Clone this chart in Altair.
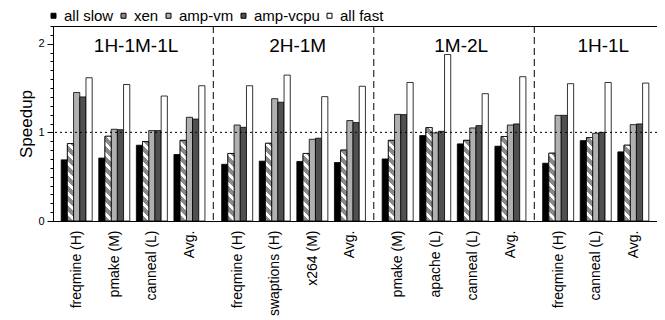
import math
import altair as alt

# ---------------- data ----------------
series = ["all slow", "xen", "amp-vm", "amp-vcpu", "all fast"]
colors = ["#000000", "#8a8a8a", "#b0b0b0", "#505050", "#ffffff"]

groups = ["1H-1M-1L", "2H-1M", "1M-2L", "1H-1L"]
group_benchmarks = [
    ["freqmine (H)", "pmake (M)", "canneal (L)", "Avg."],
    ["freqmine (H)", "swaptions (H)", "x264 (M)", "Avg."],
    ["pmake (M)", "apache (L)", "canneal (L)", "Avg."],
    ["freqmine (H)", "canneal (L)", "Avg."],
]
all_slow = [0.69, 0.71, 0.855, 0.75, 0.64, 0.675, 0.672, 0.66, 0.70, 0.964, 0.87, 0.844, 0.652, 0.907, 0.78]
xen      = [0.874, 0.956, 0.896, 0.91, 0.762, 0.877, 0.762, 0.80, 0.91, 1.054, 0.91, 0.953, 0.765, 0.941, 0.855]
amp_vm   = [1.45, 1.035, 1.02, 1.17, 1.083, 1.38, 0.922, 1.133, 1.203, 0.994, 1.05, 1.083, 1.192, 0.99, 1.087]
amp_vcpu = [1.40, 1.03, 1.02, 1.15, 1.057, 1.34, 0.934, 1.11, 1.20, 1.012, 1.076, 1.095, 1.192, 1.0, 1.095]
all_fast = [1.616, 1.54, 1.41, 1.526, 1.526, 1.646, 1.403, 1.52, 1.563, 1.878, 1.436, 1.628, 1.549, 1.563, 1.556]
values_by_series = [all_slow, xen, amp_vm, amp_vcpu, all_fast]
title_shift = [0.08, 0.11, 0.19, 0.2]
major_ticks = [0, 1, 2]
minor_ticks = [round(i * 0.1, 1) for i in range(23)]

# ---------------- layout ----------------
FONT = "Liberation Sans"
W, H = 604, 195
YMAX = 2.2
GROUP_STEP = 4.27
BAR_W = 0.165
XMIN = -0.63
XMAX = (len(groups) - 1) * GROUP_STEP + len(group_benchmarks[-1]) - 1 + 0.63
PX_PER_X = W / (XMAX - XMIN)
PX_PER_Y = H / YMAX
STRIPE_PERIOD = 10.0
STRIPE_GRAY = "#8a8a8a"


def hatch(value):
    wpx = BAR_W * PX_PER_X
    hpx = max(value * PX_PER_Y, 1.0)
    r = hpx / wpx
    a = (1 + r) / (1 + r * r)
    n = (wpx + hpx) / STRIPE_PERIOD
    stops = []
    k = 0
    frac = 0.6
    while k / n < 1:
        o0 = k / n
        o1 = min((k + frac) / n, 1.0)
        o2 = min((k + 1) / n, 1.0)
        stops += [{"offset": o0, "color": STRIPE_GRAY}, {"offset": o1, "color": STRIPE_GRAY},
                  {"offset": o1, "color": "#ffffff"}, {"offset": o2, "color": "#ffffff"}]
        k += 1
    return {"gradient": "linear", "x1": 0, "y1": 1, "x2": a, "y2": 1 - a * r, "stops": stops}


rows, centers, labels = [], [], []
idx = 0
for g, benches in enumerate(group_benchmarks):
    for k, b in enumerate(benches):
        c = g * GROUP_STEP + k
        centers.append(c)
        labels.append(b)
        for i, s in enumerate(series):
            v = values_by_series[i][idx]
            x0 = c + (i - 2.5) * BAR_W
            row = {"series": s, "x0": x0, "x1": x0 + BAR_W, "v": v, "y0": 0}
            if s == "xen":
                row["grad"] = hatch(v)
            rows.append(row)
        idx += 1

sep_rows = [{"sx": g * GROUP_STEP - (GROUP_STEP - 3) / 2} for g in range(1, len(groups))]
title_rows = [{"t": t, "tx": g * GROUP_STEP + (len(group_benchmarks[g]) - 1) / 2 + title_shift[g], "ty": 1.91}
              for g, t in enumerate(groups)]

label_expr = "''"
for c, l in reversed(list(zip(centers, labels))):
    label_expr = f"datum.value < {c + 0.5:.3f} ? '{l}' : ({label_expr})"

xscale = alt.Scale(domain=[XMIN, XMAX], nice=False, zero=False)
yscale = alt.Scale(domain=[0, YMAX], nice=False)

bar_data = alt.InlineData(values=rows)

bars = alt.Chart(bar_data).mark_bar(stroke="black", strokeWidth=0.8).encode(
    x=alt.X("x0:Q", scale=xscale, axis=alt.Axis(
        values=centers, labelExpr=label_expr, labelAngle=270, labelAlign="right",
        labelBaseline="middle", ticks=False, domain=False, grid=False, labelPadding=9,
        labelFontSize=14, labelFont=FONT, labelColor="black", title=None, labelOverlap=False)),
    x2="x1:Q",
    y=alt.Y("v:Q", scale=yscale, axis=alt.Axis(
        orient="left", values=major_ticks, format="d", labelOverlap=False, tickSize=6,
        tickColor="black", domain=False, grid=False, labelFontSize=11, labelFont=FONT,
        labelColor="black", labelPadding=3, title="Speedup", titleFontSize=17,
        titleFont=FONT, titleFontWeight="normal", titleColor="black", titlePadding=2)),
    y2="y0:Q",
    color=alt.Color("series:N", scale=alt.Scale(domain=series, range=colors),
                    legend=alt.Legend(orient="none", legendX=-7, legendY=-18, direction="horizontal",
                                      title=None, symbolType="square", symbolSize=25,
                                      symbolStrokeColor="black", symbolStrokeWidth=1,
                                      labelFontSize=15, labelFont=FONT, labelColor="black",
                                      columnPadding=2, labelOffset=3)),
)

xen_bars = alt.Chart(bar_data).transform_filter(alt.datum.series == "xen").mark_bar(
    stroke="black", strokeWidth=0.8).encode(
    x=alt.X("x0:Q", scale=xscale),
    x2="x1:Q",
    y=alt.Y("v:Q", scale=yscale, axis=None),
    y2="y0:Q",
    fill=alt.Fill("grad:N", scale=None),
)

one_line = alt.Chart(alt.InlineData(values=[{"one": 1}])).mark_rule(
    color="black", strokeWidth=1, strokeDash=[2, 3]).encode(
    y=alt.Y("one:Q", scale=yscale, axis=alt.Axis(
        orient="left", values=minor_ticks, labels=False, tickSize=3, tickColor="black",
        domain=True, domainColor="black", grid=False, title=None)))

seps = alt.Chart(alt.InlineData(values=sep_rows)).mark_rule(
    color="black", strokeWidth=1, strokeDash=[7, 4]).encode(
    x=alt.X("sx:Q", scale=xscale))

titles = alt.Chart(alt.InlineData(values=title_rows)).mark_text(
    fontSize=19, font=FONT, baseline="alphabetic", align="center", color="black").encode(
    x=alt.X("tx:Q", scale=xscale),
    y=alt.Y("ty:Q", scale=yscale, axis=None),
    text="t:N",
)

chart = alt.layer(bars, xen_bars, one_line, seps, titles).resolve_axis(y="independent").properties(
    width=W, height=H,
    padding={"left": 45, "top": 18, "right": 0, "bottom": 100},
    autosize=alt.AutoSizeParams(type="none"),
).configure_view(stroke="black", strokeWidth=1)

chart.save("out.html", embed_options={"renderer": "svg", "actions": False})
